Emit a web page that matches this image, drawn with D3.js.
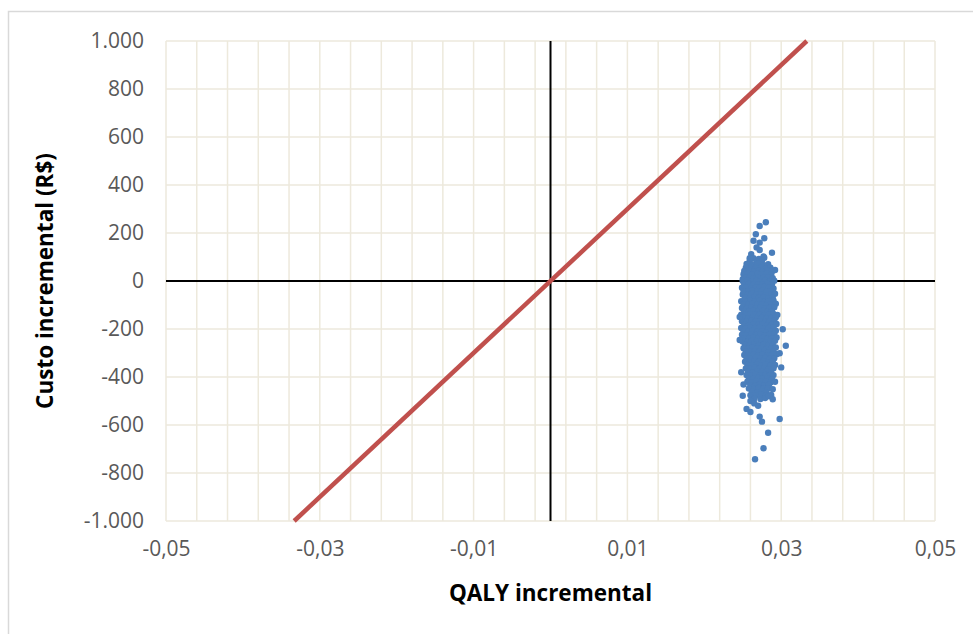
<!DOCTYPE html>
<html>
<head>
<meta charset="utf-8">
<script src="https://cdn.jsdelivr.net/npm/d3@7"></script>
<style>
  body { margin: 0; background: #fff; }
  svg { display: block; font-family: "Open Sans", Lato, sans-serif; }
</style>
</head>
<body>
<script>
// eixos
var xTicks = [-0.05, -0.03, -0.01, 0.01, 0.03, 0.05];
var yTicks = [-1000, -800, -600, -400, -200, 0, 200, 400, 600, 800, 1000];
var xGridStep = 0.004;
var threshold = 30000; // R$ por QALY (linha de disposição a pagar)

// simulações [QALY incremental, custo incremental]
var simulations = [
  [0.0280,245],[0.0272,229],[0.0267,195],[0.0278,178],[0.0264,168],[0.0272,160],[0.0268,140],
  [0.0272,129],[0.0288,118],[0.0261,112],[0.0259,95],[0.0277,102],[0.0255,71],[0.0292,46],[0.0250,8],
  [0.0264,95],[0.0271,92],[0.0278,97],
  [0.0259,82],[0.0268,80],[0.0275,84],
  [0.0256,70],[0.0263,68],[0.0270,72],[0.0277,66],[0.0283,70],
  [0.0254,55],[0.0261,57],[0.0267,53],[0.0274,56],[0.0280,52],[0.0286,55],
  [0.0252,42],[0.0258,44],[0.0265,40],[0.0271,43],[0.0276,41],[0.0282,45],[0.0288,40],
  [0.0251,28],[0.0257,30],[0.0263,26],[0.0269,29],[0.0275,27],[0.0281,31],[0.0287,26],
  [0.0253,14],[0.0259,16],[0.0264,12],[0.0270,15],[0.0277,13],[0.0283,16],[0.0289,12],
  [0.0250,0],[0.0256,2],[0.0262,-2],[0.0268,1],[0.0273,-1],[0.0279,3],[0.0285,-3],[0.0291,1],
  [0.0252,-14],[0.0258,-12],[0.0264,-16],[0.0270,-13],[0.0276,-15],[0.0282,-11],[0.0288,-14],
  [0.0249,-28],[0.0255,-26],[0.0261,-30],[0.0267,-27],[0.0272,-29],[0.0278,-25],[0.0284,-28],[0.0290,-31],
  [0.0251,-42],[0.0257,-44],[0.0263,-40],[0.0269,-43],[0.0275,-41],[0.0281,-45],[0.0286,-42],
  [0.0250,-56],[0.0256,-58],[0.0262,-54],[0.0268,-57],[0.0274,-55],[0.0280,-59],[0.0287,-56],[0.0292,-53],
  [0.0253,-70],[0.0259,-72],[0.0265,-68],[0.0271,-71],[0.0277,-69],[0.0283,-73],[0.0289,-70],
  [0.0248,-84],[0.0254,-86],[0.0260,-82],[0.0266,-85],[0.0272,-83],[0.0278,-87],[0.0284,-84],[0.0290,-81],
  [0.0251,-98],[0.0257,-100],[0.0263,-96],[0.0269,-99],[0.0275,-97],[0.0281,-101],[0.0287,-98],[0.0293,-95],
  [0.0249,-112],[0.0255,-114],[0.0261,-110],[0.0267,-113],[0.0273,-111],[0.0279,-115],[0.0285,-112],[0.0291,-109],
  [0.0252,-126],[0.0258,-128],[0.0264,-124],[0.0270,-127],[0.0276,-125],[0.0282,-129],[0.0288,-126],
  [0.0248,-140],[0.0254,-142],[0.0260,-138],[0.0266,-141],[0.0272,-139],[0.0278,-143],[0.0284,-140],[0.0290,-137],[0.0295,-141],
  [0.0251,-154],[0.0257,-156],[0.0263,-152],[0.0269,-155],[0.0275,-153],[0.0281,-157],[0.0287,-154],[0.0293,-151],
  [0.0249,-168],[0.0255,-170],[0.0261,-166],[0.0267,-169],[0.0273,-167],[0.0279,-171],[0.0285,-168],[0.0291,-165],
  [0.0252,-182],[0.0258,-184],[0.0264,-180],[0.0270,-183],[0.0276,-181],[0.0282,-185],[0.0288,-182],[0.0294,-179],
  [0.0248,-196],[0.0254,-198],[0.0260,-194],[0.0266,-197],[0.0272,-195],[0.0278,-199],[0.0284,-196],[0.0290,-193],
  [0.0251,-210],[0.0257,-212],[0.0263,-208],[0.0269,-211],[0.0275,-209],[0.0281,-213],[0.0287,-210],[0.0293,-207],
  [0.0249,-224],[0.0255,-226],[0.0261,-222],[0.0267,-225],[0.0273,-223],[0.0279,-227],[0.0285,-224],[0.0291,-221],
  [0.0252,-238],[0.0258,-240],[0.0264,-236],[0.0270,-239],[0.0276,-237],[0.0282,-241],[0.0288,-238],[0.0294,-235],
  [0.0250,-252],[0.0256,-254],[0.0262,-250],[0.0268,-253],[0.0274,-251],[0.0280,-255],[0.0286,-252],[0.0292,-249],
  [0.0253,-266],[0.0259,-268],[0.0265,-264],[0.0271,-267],[0.0277,-265],[0.0283,-269],[0.0289,-266],
  [0.0251,-280],[0.0257,-282],[0.0263,-278],[0.0269,-281],[0.0275,-279],[0.0281,-283],[0.0287,-280],[0.0293,-277],
  [0.0254,-294],[0.0260,-296],[0.0266,-292],[0.0272,-295],[0.0278,-293],[0.0284,-297],[0.0290,-294],
  [0.0252,-308],[0.0258,-310],[0.0264,-306],[0.0270,-309],[0.0276,-307],[0.0282,-311],[0.0288,-308],[0.0294,-305],
  [0.0255,-322],[0.0261,-324],[0.0267,-320],[0.0273,-323],[0.0279,-321],[0.0285,-325],[0.0291,-322],
  [0.0253,-336],[0.0259,-338],[0.0265,-334],[0.0271,-337],[0.0277,-335],[0.0283,-339],[0.0289,-336],
  [0.0256,-350],[0.0262,-352],[0.0268,-348],[0.0274,-351],[0.0280,-349],[0.0286,-353],[0.0292,-350],
  [0.0254,-364],[0.0260,-366],[0.0266,-362],[0.0272,-365],[0.0278,-363],[0.0284,-367],[0.0290,-364],
  [0.0257,-378],[0.0263,-380],[0.0269,-376],[0.0275,-379],[0.0281,-377],[0.0287,-381],
  [0.0255,-392],[0.0261,-394],[0.0267,-390],[0.0273,-393],[0.0279,-391],[0.0285,-395],[0.0290,-392],
  [0.0258,-406],[0.0264,-408],[0.0270,-404],[0.0276,-407],[0.0282,-405],[0.0288,-409],
  [0.0256,-420],[0.0262,-422],[0.0268,-418],[0.0274,-421],[0.0280,-419],[0.0286,-423],
  [0.0260,-434],[0.0266,-436],[0.0272,-432],[0.0278,-435],[0.0284,-433],
  [0.0258,-448],[0.0265,-450],[0.0271,-446],[0.0277,-449],[0.0283,-447],[0.0289,-451],
  [0.0262,-462],[0.0269,-464],[0.0275,-460],[0.0281,-463],
  [0.0260,-476],[0.0267,-478],[0.0274,-474],[0.0280,-477],[0.0287,-475],
  [0.0265,-490],[0.0273,-492],[0.0279,-488],
  [0.0246,-246],[0.0306,-270],[0.0302,-201],[0.0298,-301],[0.0300,-360],[0.0292,-420],[0.0248,-380],
  [0.0246,-150],[0.0251,-431],[0.0250,-478],[0.0284,-480],[0.0289,-493],[0.0260,-500],[0.0265,-510],
  [0.0270,-520],[0.0255,-533],[0.0260,-546],[0.0272,-565],[0.0275,-586],[0.0298,-575],[0.0283,-632],
  [0.0277,-697],[0.0266,-743]
];

var W = 973, H = 634;
var margin = { left: 166, right: 38, top: 41, bottom: 113 };

var svg = d3.select("body").append("svg").attr("width", W).attr("height", H);

// moldura do gráfico
svg.append("rect")
  .attr("x", 8.5).attr("y", 11.5)
  .attr("width", W).attr("height", H)
  .attr("fill", "none").attr("stroke", "#d9d9d9").attr("stroke-width", 1.5);

var x = d3.scaleLinear().domain([-0.05, 0.05]).range([margin.left, W - margin.right]);
var y = d3.scaleLinear().domain([-1000, 1000]).range([H - margin.bottom, margin.top]);

// formato brasileiro, com hífen como sinal de menos
var ptBR = d3.formatLocale({ decimal: ",", thousands: ".", grouping: [3], currency: ["R$", ""], minus: "-" });
var fmtY = ptBR.format(",");
var fmtX = ptBR.format(".2f");

// grade vertical
var xGrid = d3.range(0, 26).map(function(i) { return -0.05 + i * xGridStep; });
svg.append("g").selectAll("line")
  .data(xGrid)
  .enter().append("line")
    .attr("x1", function(d) { return x(d); })
    .attr("x2", function(d) { return x(d); })
    .attr("y1", y(-1000)).attr("y2", y(1000))
    .attr("stroke", "#ede9dc").attr("stroke-width", 1.5);

// grade horizontal
svg.append("g").selectAll("line")
  .data(yTicks)
  .enter().append("line")
    .attr("x1", x(-0.05)).attr("x2", x(0.05))
    .attr("y1", function(d) { return y(d); })
    .attr("y2", function(d) { return y(d); })
    .attr("stroke", "#ede9dc").attr("stroke-width", 1.5);

// rótulos dos eixos
var yAxis = d3.axisLeft(y).tickValues(yTicks).tickFormat(fmtY).tickSize(0).tickPadding(22);
svg.append("g")
  .attr("transform", "translate(" + margin.left + ",0)")
  .call(yAxis)
  .call(function(g) { g.select(".domain").remove(); })
  .selectAll("text")
    .attr("font-size", 21).attr("fill", "#595959")
    .attr("font-family", "'Open Sans', Lato, sans-serif");

var xAxis = d3.axisBottom(x).tickValues(xTicks).tickFormat(fmtX).tickSize(0).tickPadding(20);
svg.append("g")
  .attr("transform", "translate(0," + y(-1000) + ")")
  .call(xAxis)
  .call(function(g) { g.select(".domain").remove(); })
  .selectAll("text")
    .attr("font-size", 21).attr("fill", "#595959")
    .attr("font-family", "'Open Sans', Lato, sans-serif");

// eixos zero
svg.append("line")
  .attr("x1", x(-0.05)).attr("x2", x(0.05))
  .attr("y1", y(0)).attr("y2", y(0))
  .attr("stroke", "#000").attr("stroke-width", 2);
svg.append("line")
  .attr("x1", x(0)).attr("x2", x(0))
  .attr("y1", y(-1000)).attr("y2", y(1000))
  .attr("stroke", "#000").attr("stroke-width", 2);

// pontos
svg.append("g").selectAll("circle")
  .data(simulations)
  .enter().append("circle")
    .attr("cx", function(d) { return x(d[0]); })
    .attr("cy", function(d) { return y(d[1]); })
    .attr("r", 3.2)
    .attr("fill", "#4a7ebb");

// limiar
svg.append("line")
  .attr("x1", x(-1000 / threshold)).attr("y1", y(-1000))
  .attr("x2", x(1000 / threshold)).attr("y2", y(1000))
  .attr("stroke", "#c0504d").attr("stroke-width", 4.5);

// títulos
svg.append("text")
  .attr("x", (x(-0.05) + x(0.05)) / 2).attr("y", 601)
  .attr("text-anchor", "middle")
  .attr("font-size", 22.5).attr("font-weight", "bold").attr("fill", "#000")
  .text("QALY incremental");

svg.append("text")
  .attr("transform", "translate(53," + y(0) + ") rotate(-90)")
  .attr("text-anchor", "middle")
  .attr("font-size", 22.5).attr("font-weight", "bold").attr("fill", "#000")
  .text("Custo incremental (R$)");
</script>
</body>
</html>
